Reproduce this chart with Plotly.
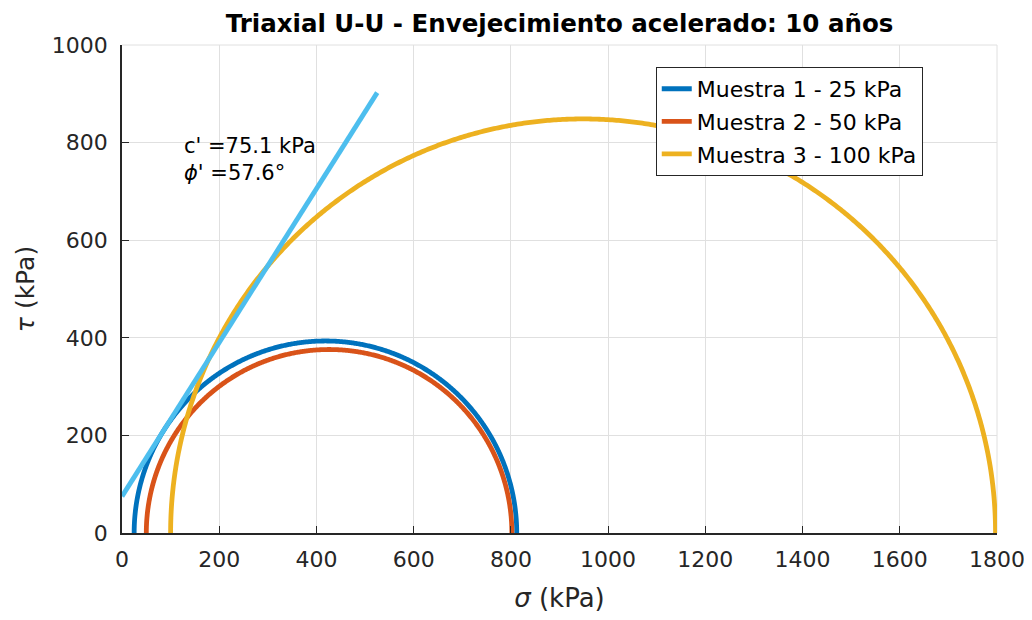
import numpy as np
import plotly.graph_objects as go

# Data
sample_names = ["Muestra 1 - 25 kPa", "Muestra 2 - 50 kPa", "Muestra 3 - 100 kPa"]
sigma3 = [25, 50, 100]          # minor principal stress (kPa)
sigma1 = [812, 802, 1797]       # major principal stress (kPa)
colors = ["#0072BD", "#D95319", "#EDB120"]

cohesion = 75.1                 # c' (kPa)
phi_deg = 57.6                  # phi' (deg)
envelope_sigma = [0, 525]       # sigma extent of envelope line
envelope_color = "#4DBEEE"

x_ticks = [0, 200, 400, 600, 800, 1000, 1200, 1400, 1600, 1800]
y_ticks = [0, 200, 400, 600, 800, 1000]

FONT = "DejaVu Sans, Liberation Sans, Arial, sans-serif"
TXT = "#262626"

fig = go.Figure()

theta = np.linspace(0, np.pi, 600)
for i, (name, s3, s1, c) in enumerate(zip(sample_names, sigma3, sigma1, colors)):
    center = (s1 + s3) / 2
    radius = (s1 - s3) / 2
    fig.add_trace(go.Scatter(
        x=center + radius * np.cos(theta),
        y=radius * np.sin(theta),
        mode="lines", name=name, legendgroup=f"g{i}",
        line=dict(color=c, width=4.8, simplify=False),
    ))

env_x = np.array(envelope_sigma, dtype=float)
env_y = cohesion + np.tan(np.radians(phi_deg)) * env_x
fig.add_trace(go.Scatter(
    x=env_x, y=env_y, mode="lines", showlegend=False,
    line=dict(color=envelope_color, width=4.8),
))

fig.add_annotation(
    x=125, y=766, xref="x", yref="y",
    text=f"c' ={cohesion} kPa<br><i>ϕ</i>' ={phi_deg}°",
    showarrow=False, xanchor="left", yanchor="middle", align="left", borderpad=0,
    font=dict(family=FONT, size=21, color="#000000"),
)

fig.update_layout(
    width=1024, height=612,
    margin=dict(l=114, r=35, t=37, b=87, autoexpand=False),
    paper_bgcolor="white", plot_bgcolor="white",
    font=dict(family=FONT, size=22, color=TXT),
    title=dict(
        text="<b>Triaxial U-U - Envejecimiento acelerado: 10 años</b>",
        x=0.5, xref="paper", xanchor="center",
        y=0.975, yref="container", yanchor="middle",
        font=dict(family=FONT, size=24.5, color="#000000"),
        automargin=False,
    ),
    legend=dict(
        x=0.610, y=0.955, xanchor="left", yanchor="top",
        bgcolor="white", bordercolor="#262626", borderwidth=1,
        font=dict(family=FONT, size=22, color="#000000"),
        tracegroupgap=1,
    ),
    showlegend=True,
)

fig.update_xaxes(
    range=[0, 1800], tickvals=x_ticks, ticktext=[str(v) for v in x_ticks],
    showgrid=True, gridcolor="#e0e0e0", gridwidth=1,
    showline=True, linecolor=TXT, linewidth=1.5,
    ticks="inside", ticklen=7, tickcolor=TXT,
    zeroline=False, mirror=False, automargin=False,
    ticklabelstandoff=6,
    title=dict(text="<i>σ</i> (kPa)", font=dict(family=FONT, size=26, color=TXT), standoff=18),
    tickfont=dict(family=FONT, size=22, color=TXT),
)
fig.update_yaxes(
    range=[0, 1000], tickvals=y_ticks, ticktext=[str(v) for v in y_ticks],
    showgrid=True, gridcolor="#e0e0e0", gridwidth=1,
    showline=True, linecolor=TXT, linewidth=1.5,
    ticks="inside", ticklen=7, tickcolor=TXT,
    zeroline=False, mirror=False, automargin=False,
    ticklabelstandoff=8,
    title=dict(text="<i>τ</i> (kPa)", font=dict(family=FONT, size=25, color=TXT), standoff=10),
    tickfont=dict(family=FONT, size=22, color=TXT),
)

# light top/right frame like the grid
fig.add_shape(type="line", xref="paper", yref="paper", x0=0, x1=1, y0=1, y1=1,
              line=dict(color="#e0e0e0", width=1), layer="below")
fig.add_shape(type="line", xref="paper", yref="paper", x0=1, x1=1, y0=0, y1=1,
              line=dict(color="#e0e0e0", width=1), layer="below")

fig.write_html("out.html")
